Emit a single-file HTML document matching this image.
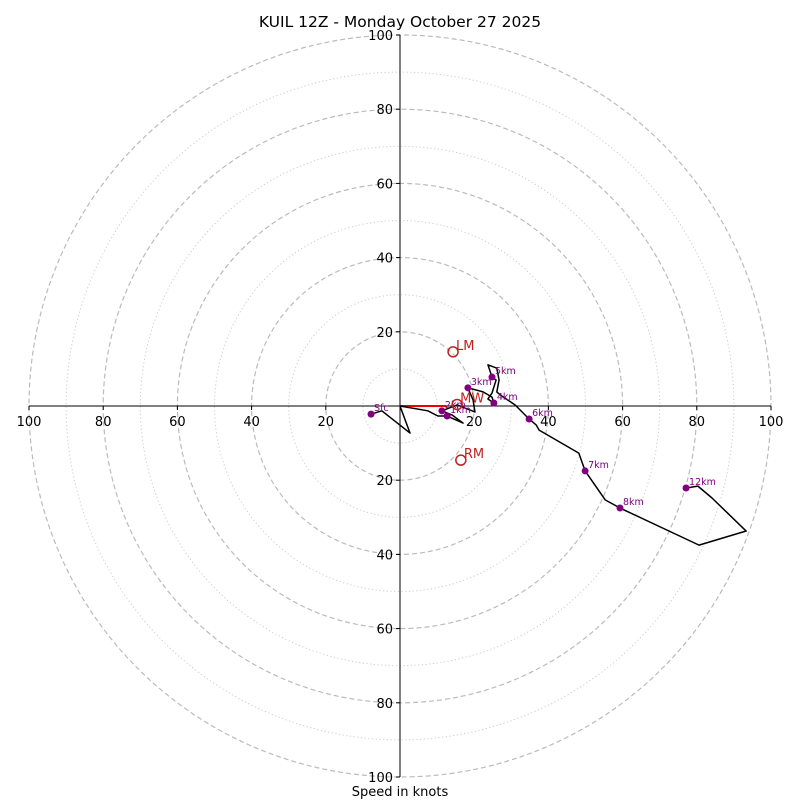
<!DOCTYPE html>
<html><head><meta charset="utf-8"><style>
html,body{margin:0;padding:0;background:#fff}
svg{display:block;font-family:"DejaVu Sans","Liberation Sans",sans-serif}
</style></head><body>
<svg id="chart" width="800" height="800" viewBox="0 0 800 800" xmlns="http://www.w3.org/2000/svg">
<text x="400" y="27" font-size="15.5" text-anchor="middle">KUIL 12Z - Monday October 27 2025</text>
<text x="400" y="796" font-size="13" text-anchor="middle">Speed in knots</text>
<g id="grid"></g>
<g id="axes"></g>
<g id="trace"></g>
</svg>
<script>
const uVals=[-7.8,-4.9,2.7,0,7.5,10.2,12.7,17.0,14.0,11.3,15.4,18.9,20.2,19.7,18.3,22.4,24.8,25.3,23.7,24.8,25.9,24.8,23.7,26.1,26.7,26.1,27.0,31.0,34.8,36.7,37.5,48.2,49.9,55.3,59.3,80.6,93.3,84.1,80.3,77.1];
const vVals=[-2.2,-1.3,-7.3,0,-1.3,-2.7,-2.7,-4.6,-2.4,-1.3,0.3,-1.1,-1.6,1.6,4.9,3.8,2.4,0.8,1.9,3.5,7.0,7.8,11.1,10.2,7.0,3.8,3.0,0.3,-3.5,-5.1,-6.5,-12.7,-17.5,-25.3,-27.5,-37.5,-33.7,-24.8,-21.6,-22.1];
const markerIdx=[0,6,9,14,17,21,28,32,34,39];
const markerLabels=["Sfc","1km","2km","3km","4km","5km","6km","7km","8km","12km"];
const stormNames=["LM","RM","MW"];
const stormU=[14.3,16.4,15.4];
const stormV=[14.6,-14.6,0.4];
const shearU=[0,12.5];
const shearV=[0,0];
const ringVals=[10,20,30,40,50,60,70,80,90,100];
const tickVals=[20,40,60,80,100];

const NS="http://www.w3.org/2000/svg";
const cx=400,cy=406,R=371,maxK=100;
const sx=u=>cx+u*R/maxK;
const sy=v=>cy-v*R/maxK;
const rr=k=>k*R/maxK;
function mk(tag,attrs,parent){const e=document.createElementNS(NS,tag);for(const k in attrs)e.setAttribute(k,attrs[k]);parent.appendChild(e);return e;}
const grid=document.getElementById('grid'),axes=document.getElementById('axes'),trace=document.getElementById('trace');

ringVals.forEach(k=>{
  const c=mk('circle',{cx:cx,cy:cy,r:rr(k),fill:'none',stroke:k%20===0?'#bbb':'#ccc','stroke-width':k%20===0?1.2:1,'stroke-dasharray':k%20===0?'5,3':'1.2,2.5'},grid);
  
  
});
const hx=mk('line',{x1:sx(-maxK),y1:cy,x2:sx(maxK),y2:cy,stroke:'#000','stroke-width':1},axes);


const vy=mk('line',{x1:cx,y1:sy(maxK),x2:cx,y2:sy(-maxK),stroke:'#000','stroke-width':1},axes);


tickVals.forEach(k=>{
  [-1,1].forEach(s=>{
    const tx=mk('line',{x1:sx(s*k),y1:cy,x2:sx(s*k),y2:cy+4,stroke:'#000'},axes);
    
    
    const lx=mk('text',{x:sx(s*k),y:cy+20,'font-size':13,'text-anchor':'middle'},axes);
    lx.textContent=k;
    
    
    const ty=mk('line',{x1:cx-4,y1:sy(s*k),x2:cx,y2:sy(s*k),stroke:'#000'},axes);
    
    
    const ly=mk('text',{x:cx-7,y:sy(s*k)+5,'font-size':13,'text-anchor':'end'},axes);
    ly.textContent=k;
    
    
  });
});
const sh=mk('line',{x1:sx(shearU[0]),y1:sy(shearV[0]),x2:sx(shearU[1]),y2:sy(shearV[1]),stroke:'#e00','stroke-width':2},trace);


const pl=mk('polyline',{points:uVals.map((u,i)=>sx(u)+','+sy(vVals[i])).join(' '),fill:'none',stroke:'#000','stroke-width':1.5,'stroke-linejoin':'round'},trace);


markerIdx.forEach((idx,j)=>{
  const c=mk('circle',{cx:sx(uVals[idx]),cy:sy(vVals[idx]),r:3.5,fill:'#800080'},trace);
  
  
  const t=mk('text',{x:sx(uVals[idx])+3,y:sy(vVals[idx])-3,'font-size':9.5,fill:'#800080'},trace);
  t.textContent=markerLabels[j];
  
  
});
stormNames.forEach((n,i)=>{
  const c=mk('circle',{cx:sx(stormU[i]),cy:sy(stormV[i]),r:5,fill:'none',stroke:'#c02020','stroke-width':1.5},trace);
  
  
  const t=mk('text',{x:sx(stormU[i])+3,y:sy(stormV[i])-2,'font-size':13,fill:'#c02020'},trace);
  t.textContent=n;
  
  
});
</script>
</body></html>
